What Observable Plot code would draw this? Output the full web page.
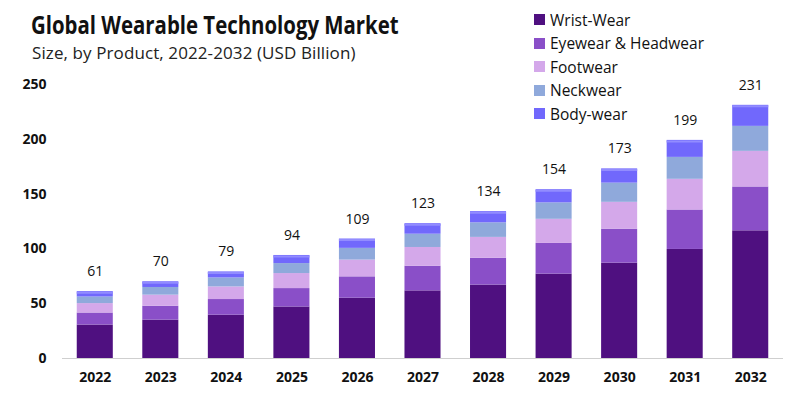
<!DOCTYPE html>
<html>
<head>
<meta charset="utf-8">
<script src="https://cdn.jsdelivr.net/npm/d3@7"></script>
<script src="https://cdn.jsdelivr.net/npm/@observablehq/plot@0.6"></script>
<style>
  body { margin: 0; background: #fff; }
  #wrap { position: relative; width: 800px; height: 398px; overflow: hidden; font-family: "Open Sans", sans-serif; }
  #title { position: absolute; left: 31px; top: 11px; font-size: 25px; line-height: 26px; font-weight: 700; color: #111; white-space: nowrap; transform: scaleX(0.815); transform-origin: 0 0; }
  #subtitle { position: absolute; left: 32px; top: 44px; font-size: 17px; line-height: 18px; letter-spacing: 0.1px; color: #222; white-space: nowrap; }
  #legend { position: absolute; left: 534px; top: 8px; }
  .item { display: flex; align-items: center; height: 23.5px; font-size: 15.5px; color: #111; white-space: nowrap; }
  .sw { width: 11px; height: 11px; margin-right: 5px; }
  #chart { position: absolute; left: 0; top: 0; }
</style>
</head>
<body>
<div id="wrap">
  <div id="chart"></div>
  <div id="title">Global Wearable Technology Market</div>
  <div id="subtitle">Size, by Product, 2022-2032 (USD Billion)</div>
  <div id="legend"></div>
</div>
<script>
const years = ["2022","2023","2024","2025","2026","2027","2028","2029","2030","2031","2032"];
const products = ["Wrist-Wear","Eyewear & Headwear","Footwear","Neckwear","Body-wear"];
const colors = ["#4f1080","#8a4fc8","#d4a8ea","#8fa9db","#7168fc"];
const wristWear   = [30.5, 35.0, 39.5, 47.0, 55.0, 61.7, 67.0, 77.0, 87.0, 99.5, 116.5];
const eyewear     = [11.0, 12.7, 14.3, 16.8, 19.5, 22.5, 24.5, 28.0, 31.0, 36.0, 40.0];
const footwear    = [ 8.6, 10.1, 11.5, 13.7, 15.3, 17.1, 19.0, 22.0, 24.5, 28.0, 32.5];
const neckwear    = [ 6.0,  7.0,  8.2,  9.1, 10.7, 12.1, 13.3, 15.0, 17.5, 20.0, 22.8];
const bodyWear    = [ 4.9,  5.2,  5.5,  7.4,  8.5,  9.6, 10.2, 12.0, 13.0, 15.5, 19.2];
const totals      = [61, 70, 79, 94, 109, 123, 134, 154, 173, 199, 231];
const yTicks = [0, 50, 100, 150, 200, 250];

const series = [wristWear, eyewear, footwear, neckwear, bodyWear];
const rows = [];
products.forEach((p, i) => years.forEach((y, j) => rows.push({year: y, product: p, value: series[i][j]})));
const totalRows = years.map((y, j) => ({year: y, total: totals[j]}));

const chart = Plot.plot({
  width: 800,
  height: 398,
  marginLeft: 62,
  marginRight: 17,
  marginTop: 84,
  marginBottom: 40,
  x: {domain: years, paddingInner: 0.45, paddingOuter: 0.225, round: false, label: null},
  y: {domain: [0, 250], ticks: yTicks, label: null},
  color: {domain: products, range: colors},
  style: {fontFamily: "Open Sans, sans-serif"},
  marks: [
    Plot.barY(rows, Plot.stackY({x: "year", y: "value", fill: "product", order: products})),
    Plot.tickY(totalRows, {x: "year", y: "total", stroke: "#928cff", strokeWidth: 2, dy: 1}),
    Plot.ruleY([0], {stroke: "#cfcfcf", strokeWidth: 1.2}),
    Plot.text(totalRows, {x: "year", y: "total", text: d => String(d.total), dy: -20, fontSize: 14, fill: "#111"}),
    Plot.axisX({tickSize: 0, tickPadding: 14, fontSize: 14, fontWeight: 700, fill: "#111"}),
    Plot.axisY({ticks: yTicks, tickSize: 0, tickPadding: 16, fontSize: 14, fontWeight: 700, fill: "#111"})
  ]
});
document.getElementById("chart").appendChild(chart);

const legend = document.getElementById("legend");
products.forEach((p, i) => {
  const d = document.createElement("div");
  d.className = "item";
  d.innerHTML = `<span class="sw" style="background:${colors[i]}"></span><span></span>`;
  d.lastChild.textContent = p;
  legend.appendChild(d);
});
</script>
</body>
</html>
